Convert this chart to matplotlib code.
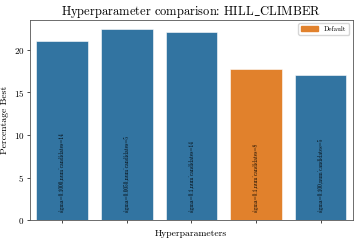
import matplotlib
matplotlib.use("Agg")
import matplotlib.pyplot as plt
from matplotlib.patches import Patch

plt.rcParams['font.family'] = ['cmr10', 'DejaVu Serif']
plt.rcParams['mathtext.fontset'] = 'cm'
plt.rcParams['axes.formatter.use_mathtext'] = True

# data
labels = ['sigma=0.1000,num_candidates=14', 'sigma=0.0050,num_candidates=5',
          'sigma=0.1,num_candidates=14', 'sigma=0.1,num_candidates=8',
          'sigma=0.100,num_candidates=5']
values = [21.1, 22.4, 22.15, 17.8, 17.0]
is_default = [False, False, False, True, False]

blue = '#3274a1'
orange = '#e1812c'
colors = [orange if d else blue for d in is_default]

fig, ax = plt.subplots(figsize=(3.6, 2.4), dpi=100)
x = range(len(values))
ax.bar(x, values, width=0.8, color=colors, edgecolor='white', linewidth=0.4)

for i, lab in enumerate(labels):
    ax.text(i, 0.9, lab, rotation=90, ha='center', va='bottom', fontsize=3.8)

ax.set_xticks(list(x))
ax.set_xticklabels([])
ax.set_xlim(-0.5, len(values) - 0.5)
ax.set_yticks([0, 5, 10, 15, 20])
ax.tick_params(labelsize=6.5, length=2.5, width=0.5, pad=1.5)
for s in ax.spines.values():
    s.set_linewidth(0.6)
    s.set_color('#555555')

ax.set_title('Hyperparameter comparison: HILL$\\_$CLIMBER', fontsize=9, pad=2)
ax.set_xlabel('Hyperparameters', fontsize=7, labelpad=3)
ax.set_ylabel('Percentage Best', fontsize=7, labelpad=3)

ax.legend(handles=[Patch(color=orange, label='Default')], loc='upper right',
          fontsize=5, handlelength=2.5, framealpha=0.8)

fig.subplots_adjust(left=0.083, right=0.98, top=0.917, bottom=0.083)
fig.savefig('out.png', dpi=100)
